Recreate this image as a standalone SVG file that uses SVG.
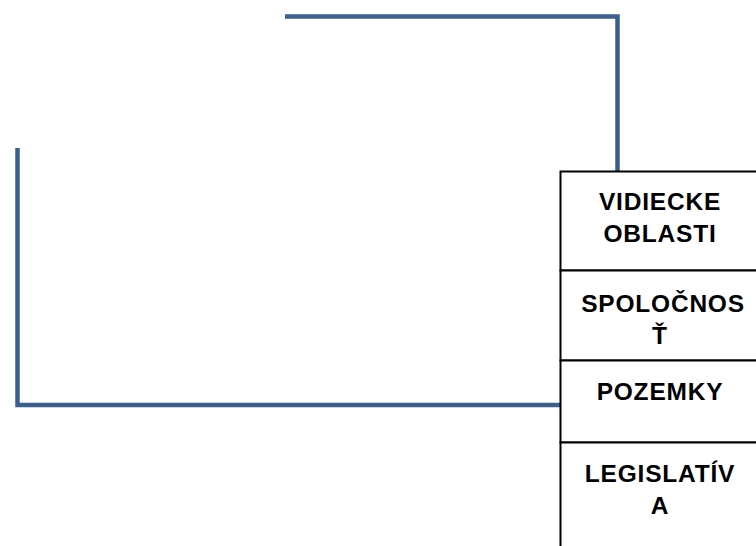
<svg xmlns="http://www.w3.org/2000/svg" width="756" height="546" viewBox="0 0 756 546">
<style>
.conn{fill:none;stroke:#3B5F8F;stroke-width:4.5;stroke-linejoin:miter}
.box{fill:#fff;stroke:#000;stroke-width:2}
.lbl{font-family:"Liberation Sans",Arial,sans-serif;font-weight:bold;font-size:24.5px;letter-spacing:0.8px;fill:#000;text-anchor:middle}
</style>
<rect width="756" height="546" fill="#fff"/>
<g id="connectors">
<polyline class="conn" points="285,16.5 617.5,16.5 617.5,171"/>
<polyline class="conn" points="17.5,148 17.5,405 560,405"/>
</g>
<g id="node-vidiecke">
<rect class="box" x="560.5" y="171.5" width="200" height="99"/>
<text class="lbl" x="660" y="210">VIDIECKE</text>
<text class="lbl" x="660" y="242">OBLASTI</text>
</g>
<g id="node-spolocnost">
<rect class="box" x="560.5" y="270.5" width="200" height="90"/>
<text class="lbl" x="663" y="312">SPOLOČNOS</text>
<text class="lbl" x="660" y="344">Ť</text>
</g>
<g id="node-pozemky">
<rect class="box" x="560.5" y="360.5" width="200" height="82"/>
<text class="lbl" x="660" y="400">POZEMKY</text>
</g>
<g id="node-legislativa">
<rect class="box" x="560.5" y="442.5" width="200" height="110"/>
<text class="lbl" x="660" y="482">LEGISLATÍV</text>
<text class="lbl" x="660" y="514">A</text>
</g>
</svg>
